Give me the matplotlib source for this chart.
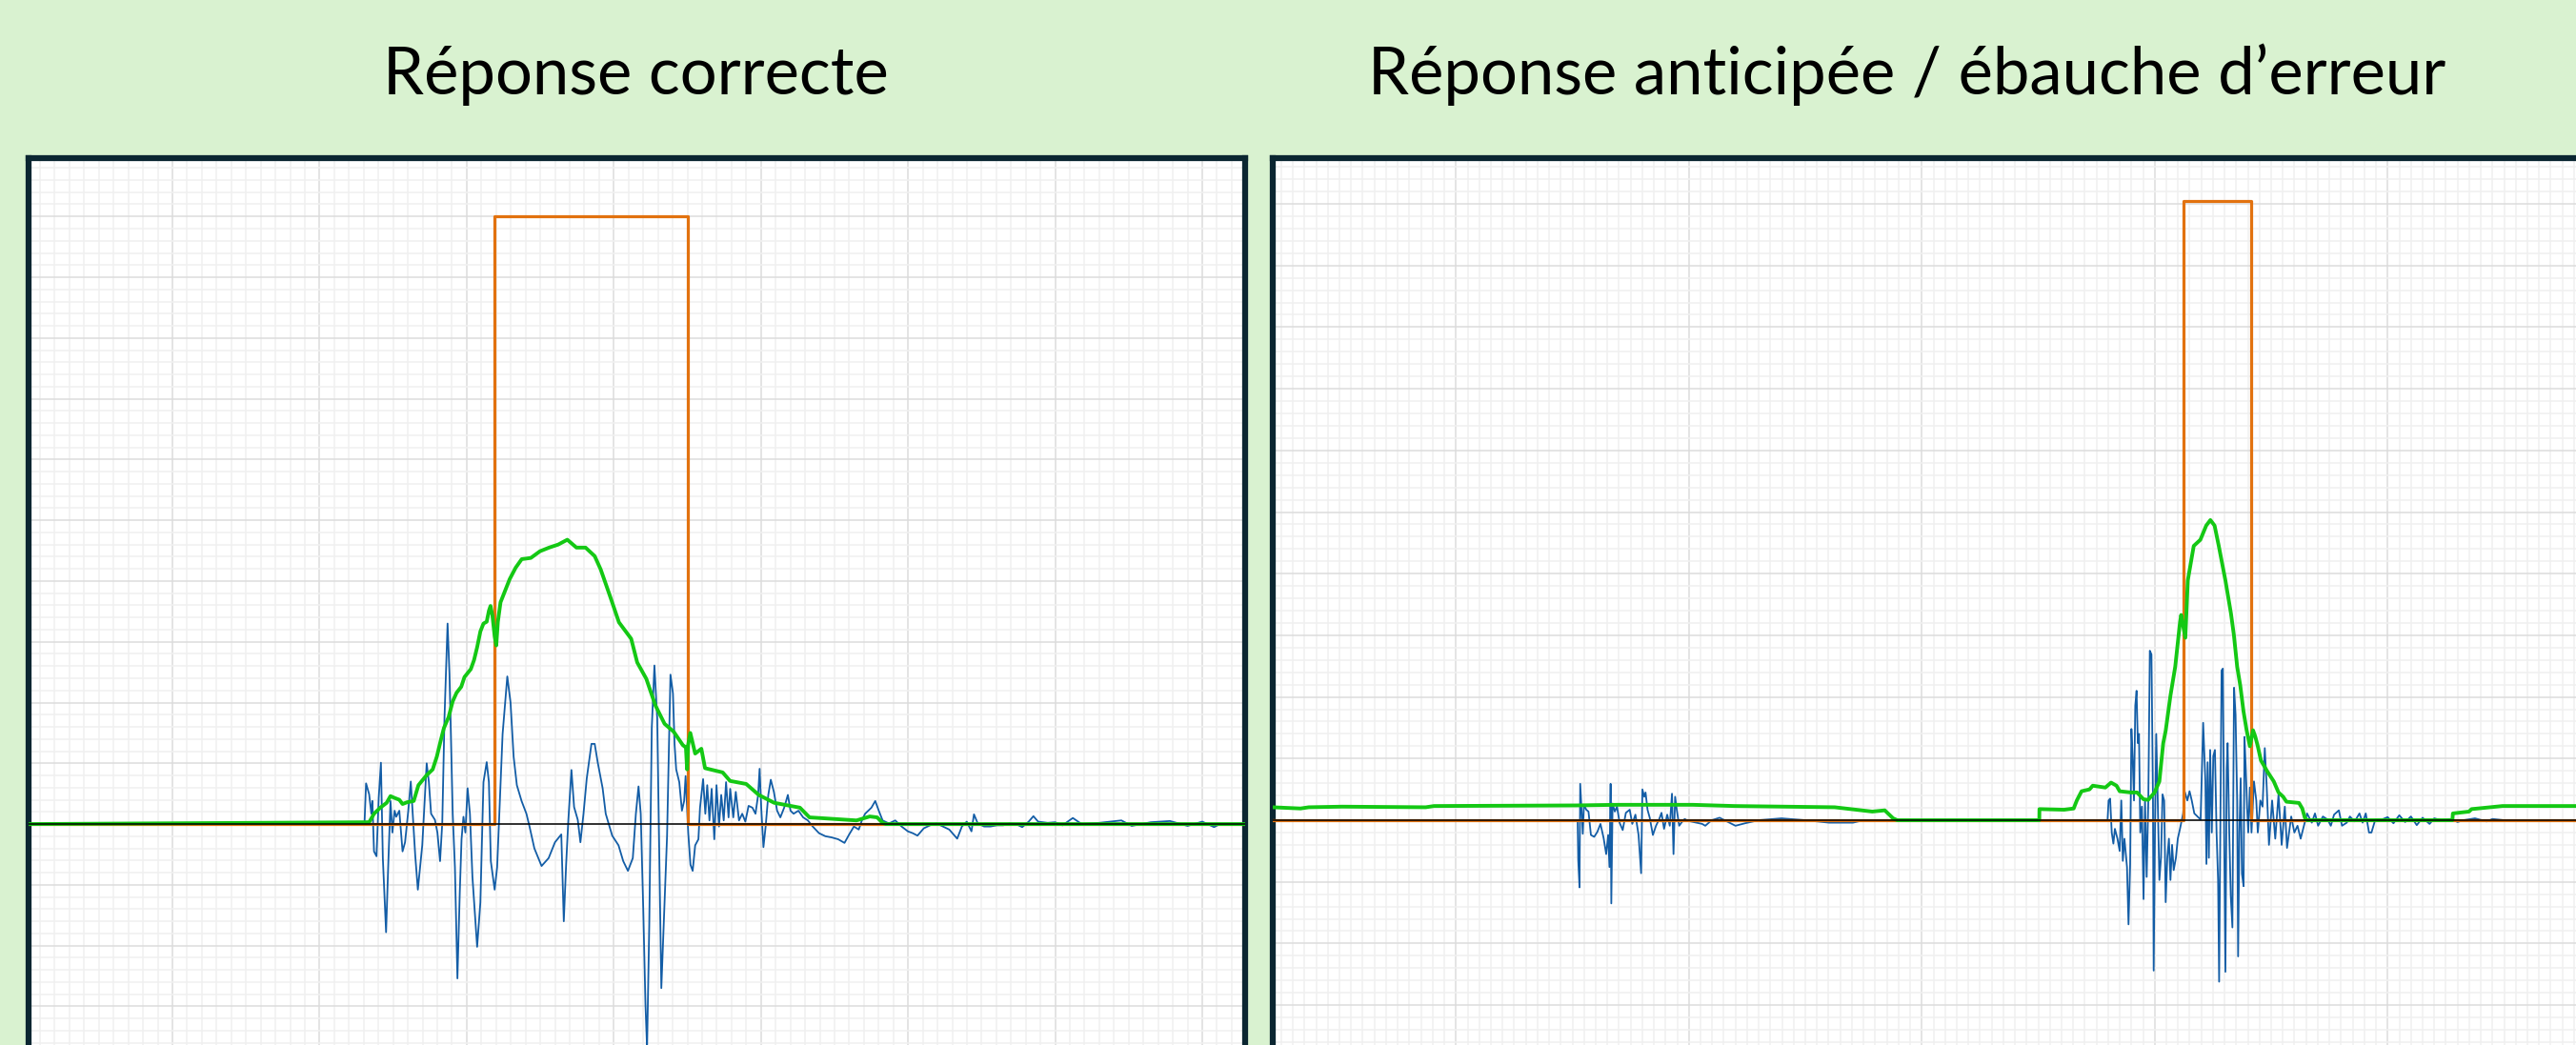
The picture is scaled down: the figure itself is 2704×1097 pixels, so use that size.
"""
Two EMG-style panels: correct response vs anticipated response.

Each panel shows a blue muscle signal, a green force trace and an
orange trigger pulse on a millimetre-paper grid.
"""

import matplotlib
matplotlib.use("Agg")
import matplotlib.pyplot as plt
from matplotlib.ticker import MultipleLocator


# Panel titles.
left_title = "Réponse correcte"
right_title = "Réponse anticipée / ébauche d\u2019erreur"

# Left panel: blue signal (time in ms, amplitude in grid units).
left_blue_t = [
    230.5, 231.6, 233.7, 235.2, 235.9, 237.0, 238.7, 240.2, 241.7, 243.0,
    245.2, 246.7, 248.2, 249.5, 251.0, 252.1, 254.2, 256.4, 258.1, 260.3,
    262.0, 263.3, 265.0, 266.8, 268.3, 269.8, 272.8, 274.3, 275.8, 278.4,
    280.1, 281.9, 283.4, 284.9, 287.0, 288.3, 290.5, 292.0, 293.7, 295.3,
    296.5, 297.8, 299.1, 300.6, 302.2, 303.9, 307.1, 309.3, 311.4, 313.6,
    315.1, 316.4, 319.0, 320.7, 322.2, 324.4, 327.6, 329.8, 331.9, 334.1,
    337.3, 340.6, 342.7, 346.0, 350.9, 355.7, 360.0, 364.3, 366.0, 367.6,
    369.1, 371.2, 373.0, 375.5, 377.3, 379.4, 381.6, 384.8, 387.0, 389.1,
    392.4, 394.5, 397.1, 398.9, 403.2, 406.4, 409.6, 412.9, 415.0, 416.8,
    418.3, 420.0, 421.5, 422.6, 424.1, 425.8, 427.6, 429.5, 430.8, 432.3,
    434.5, 436.2, 438.5, 440.2, 441.3, 442.4, 444.5, 446.3, 447.8, 448.8,
    450.6, 452.1, 453.6, 455.3, 457.5, 458.6, 460.7, 462.2, 463.5, 465.0,
    466.5, 468.3, 469.8, 471.5, 473.0, 474.7, 476.3, 478.0, 479.1, 481.2,
    482.9, 485.1, 487.3, 489.4, 491.6, 494.2, 496.3, 498.1, 499.1, 500.2,
    501.7, 503.2, 505.0, 506.7, 508.8, 511.0, 513.2, 515.8, 518.3, 520.1,
    522.2, 525.5, 528.7, 531.9, 535.2, 539.5, 543.8, 548.1, 552.5, 556.8,
    560.0, 563.2, 566.5, 568.6, 570.8, 573.0, 575.1, 577.7, 580.1, 582.7,
    587.0, 591.3, 595.6, 599.9, 603.2, 606.4, 610.7, 615.0, 619.4, 623.7,
    628.0, 633.4, 636.6, 639.9, 643.1, 644.8, 647.4, 651.7, 656.1, 660.4,
    664.7, 669.0, 673.3, 677.6, 682.0, 685.2, 688.4, 694.9, 700.0, 705.0,
    712.0, 718.0, 730.0, 745.0, 752.0, 765.0, 778.0, 790.0, 800.0, 808.0,
    812.0,
]
left_blue_v = [
    -0.01, 0.67, 0.49, 0.17, 0.38, -0.45, -0.53, 0.43, 1.01, -0.56,
    -1.78, -0.66, 0.38, -0.14, 0.22, 0.12, 0.22, -0.45, -0.30, 0.22,
    0.70, 0.17, -0.51, -1.08, -0.71, -0.35, 1.00, 0.69, 0.17, 0.07,
    -0.14, -0.61, 0.02, 1.74, 3.30, 2.47, 0.17, -0.71, -2.54, -1.13,
    -0.25, 0.12, -0.14, 0.59, 0.17, -0.87, -2.02, -1.29, 0.69, 1.02,
    0.69, -0.61, -1.08, -0.71, 0.17, 1.48, 2.43, 2.00, 1.11, 0.64,
    0.38, 0.17, -0.04, -0.40, -0.69, -0.56, -0.30, -0.17, -1.60, -0.66,
    0.07, 0.89, 0.28, 0.07, -0.30, 0.17, 0.75, 1.32, 1.32, 1.01,
    0.59, 0.17, -0.04, -0.19, -0.35, -0.61, -0.77, -0.56, 0.17, 0.62,
    0.17, -1.39, -2.96, -3.69, -1.65, 1.58, 2.61, 1.74, -0.35, -2.70,
    -1.29, -0.19, 2.46, 2.15, 1.31, 0.90, 0.69, 0.22, 0.38, 0.79,
    -0.15, -0.67, -0.77, -0.35, -0.25, 0.27, 0.74, 0.17, 0.64, 0.06,
    0.58, -0.25, 0.64, -0.04, 0.48, 0.06, 0.69, 0.11, 0.58, 0.11,
    0.53, 0.06, 0.17, 0.04, 0.30, 0.27, 0.17, 0.48, 0.91, 0.27,
    -0.38, -0.04, 0.48, 0.73, 0.53, 0.22, 0.11, 0.27, 0.48, 0.22,
    0.17, 0.22, 0.11, 0.06, -0.04, -0.15, -0.20, -0.22, -0.25, -0.31,
    -0.17, -0.04, -0.09, 0.06, 0.17, 0.22, 0.27, 0.38, 0.22, 0.06,
    0.01, 0.06, -0.04, -0.12, -0.15, -0.19, -0.07, -0.02, 0.01, -0.04,
    -0.09, -0.24, -0.04, 0.04, -0.12, 0.16, 0.01, -0.04, -0.04, -0.02,
    -0.02, 0.01, 0.00, -0.05, 0.04, 0.13, 0.04, 0.02, 0.03, -0.02,
    0.10, 0.00, 0.02, 0.06, -0.03, 0.03, 0.05, -0.03, 0.04, -0.05,
    0.00,
]

# Left panel: green force trace.
left_green_t = [
    2.0, 233.7, 237.0, 241.3, 245.6, 248.2, 251.0, 254.2, 256.4, 259.6,
    264.0, 267.2, 272.6, 276.9, 279.7, 282.3, 284.5, 287.7, 290.5, 293.1,
    296.3, 298.5, 302.8, 305.0, 307.1, 309.3, 311.4, 313.6, 315.1, 316.2,
    317.5, 319.0, 320.1, 321.2, 323.0, 329.2, 333.3, 337.4, 343.6, 349.8,
    356.0, 362.2, 368.4, 374.6, 380.8, 387.0, 391.1, 397.3, 403.5, 411.8,
    415.9, 422.1, 428.3, 434.5, 440.7, 446.9, 449.0, 449.8, 450.5, 452.0,
    455.3, 459.5, 462.0, 474.0, 479.0, 490.0, 498.5, 509.0, 526.5, 533.0,
    565.0, 574.0, 579.0, 582.7, 585.0, 829.0,
]
left_green_v = [
    0.00, 0.03, 0.17, 0.27, 0.35, 0.46, 0.43, 0.40, 0.33, 0.36,
    0.38, 0.64, 0.80, 0.90, 1.11, 1.37, 1.58, 1.76, 2.02, 2.16,
    2.26, 2.42, 2.55, 2.70, 2.91, 3.17, 3.30, 3.33, 3.51, 3.59,
    3.43, 3.09, 2.94, 3.33, 3.65, 4.03, 4.22, 4.36, 4.38, 4.49,
    4.55, 4.60, 4.68, 4.55, 4.55, 4.41, 4.19, 3.76, 3.32, 3.05,
    2.66, 2.39, 1.95, 1.65, 1.52, 1.30, 1.26, 0.90, 1.30, 1.50,
    1.16, 1.24, 0.92, 0.85, 0.71, 0.66, 0.48, 0.35, 0.27, 0.11,
    0.06, 0.125, 0.11, 0.02, 0.00, 0.00,
]

# Left panel: orange trigger pulse.
left_trig_t = [2.0, 319.0, 319.0, 450.0, 450.0, 829.0]
left_trig_v = [0.0, 0.0, 10.0, 10.0, 0.0, 0.0]

# Right panel: blue signal.
right_blue_t = [
    304.5, 305.0, 306.1, 306.7, 307.8, 308.9, 309.9, 311.9, 313.8, 315.9,
    318.7, 321.4, 324.1, 326.8, 329.0, 330.7, 331.8, 332.8, 333.4, 334.5,
    336.4, 338.3, 340.5, 343.2, 345.9, 349.2, 351.4, 354.1, 356.8, 359.0,
    360.1, 361.7, 362.8, 364.5, 366.4, 369.1, 371.8, 374.6, 376.5, 378.7,
    381.4, 383.6, 385.5, 386.8, 388.2, 389.6, 391.7, 393.6, 396.4, 399.1,
    411.4, 414.1, 419.6, 426.4, 440.0, 448.2, 460.0, 479.5, 500.0, 520.4,
    530.0, 540.9, 550.0, 759.5,
    760.4, 761.7, 763.1, 764.5, 765.8, 768.0, 769.9, 771.3, 772.6, 774.0,
    776.2, 777.5, 778.9, 780.0, 781.1, 782.2, 783.3, 784.4, 785.5, 786.5,
    787.6, 789.0, 790.4, 791.7, 793.1, 794.5, 795.8, 797.2, 798.5, 799.1,
    800.2, 801.3, 802.6, 804.0, 805.4, 806.7, 808.1, 809.4, 810.8, 812.2,
    813.5, 814.9, 816.3, 818.2, 819.8, 821.7, 824.4, 825.8, 828.0, 829.9,
    831.8, 834.0, 836.7, 839.4, 841.6, 843.5, 844.4, 845.4, 846.5, 847.6,
    849.0, 850.3, 851.7, 853.1, 854.4, 855.3, 856.3, 857.4, 858.5, 859.6,
    860.7, 861.8, 862.6, 864.0, 865.3, 866.7, 868.1, 869.4, 870.8, 871.6,
    872.7, 873.8, 874.9, 876.3, 877.1, 878.2, 879.3, 880.3, 881.7, 883.1,
    885.2, 887.2, 888.5, 890.7, 892.6, 894.5, 896.2, 898.1, 900.8, 903.5,
    906.3, 909.0, 911.7, 913.6, 917.2, 919.9, 922.6, 925.3, 928.1, 930.8,
    934.9, 937.6, 940.3, 944.4, 948.5, 951.2, 954.0, 958.1, 960.8, 964.9,
    967.6, 971.7, 975.8, 978.5, 981.2, 984.0, 986.1, 989.4, 994.9, 1000.0,
    1005.0, 1010.0, 1015.0, 1020.0, 1025.0, 1030.0, 1036.0, 1040.0, 1046.0, 1055.0,
    1060.0, 1065.0, 1075.0, 1085.0, 1090.0, 1100.0,
]
right_blue_v = [
    0.00, -0.65, -1.09, 0.59, 0.17, -0.22, 0.25, 0.17, 0.14, -0.24,
    -0.27, -0.19, -0.06, -0.29, -0.55, -0.24, -0.76, 0.59, -1.35, 0.27,
    0.14, 0.22, -0.04, -0.16, 0.12, 0.17, -0.06, 0.09, -0.24, -0.86,
    0.50, 0.38, 0.45, 0.17, 0.04, -0.24, -0.09, 0.02, 0.12, -0.14,
    0.09, -0.09, 0.43, -0.55, 0.38, 0.17, -0.09, -0.04, 0.02, -0.01,
    -0.06, -0.09, 0.00, 0.04, -0.09, -0.05, 0.00, 0.03, 0.00, -0.04,
    -0.04, -0.04, 0.00, 0.00,
    0.32, 0.35, -0.20, -0.38, -0.14, -0.30, -0.50, 0.32, -0.66, -0.30,
    -0.76, -1.69, -0.71, 1.48, 0.99, 0.32, 1.86, 2.10, 1.25, 1.40,
    -0.20, 0.22, -1.28, 0.32, -0.92, 0.32, 2.75, 2.69, 0.32, -2.44,
    -0.20, 1.40, 0.32, -0.97, -0.61, 0.42, 0.32, -1.33, -0.61, -0.30,
    -0.97, -0.40, -0.81, -0.61, -0.30, -0.14, 0.11, 0.46, 0.32, 0.47,
    0.32, 0.11, 0.06, 0.01, 1.58, 0.63, -0.71, 0.94, -0.61, 1.14,
    -0.20, 1.04, 1.14, -0.20, -0.97, -2.62, -0.20, 2.43, 2.46, -0.20,
    -2.46, 0.83, 1.25, -0.20, -1.23, -1.74, 2.15, 1.71, 0.32, -2.21,
    -0.20, 0.68, -0.87, -1.07, 1.35, 0.83, 0.22, -0.20, 0.53, -0.20,
    0.63, 0.32, -0.20, 0.32, 0.22, 1.17, 0.53, -0.40, 0.32, -0.30,
    0.42, -0.40, 0.22, -0.45, 0.06, -0.20, -0.09, -0.30, -0.09, 0.11,
    -0.04, 0.11, -0.09, 0.06, 0.01, -0.09, 0.09, 0.16, -0.09, -0.04,
    0.06, -0.02, 0.11, -0.04, 0.11, -0.20, -0.20, 0.01, 0.01, 0.05,
    -0.05, 0.08, -0.03, 0.06, -0.08, 0.04, -0.06, 0.03, 0.00, 0.02,
    -0.03, 0.00, 0.03, -0.02, 0.02, 0.00,
]

# Right panel: green force trace.
right_green_t = [
    42.7, 66.5, 73.6, 102.3, 174.0, 181.2, 303.0, 338.8, 403.3, 439.2,
    525.2, 557.5, 568.2, 575.4, 579.0, 700.9, 701.0, 722.2, 730.4, 733.1,
    737.2, 744.0, 746.8, 757.6, 762.5, 767.2, 769.9, 779.5, 784.9, 790.3,
    794.4, 799.9, 804.0, 807.3, 809.4, 813.5, 817.6, 821.7, 822.7, 826.3,
    828.4, 833.5, 839.2, 844.2, 847.8, 851.4, 855.0, 860.7, 865.5, 868.0,
    870.8, 873.5, 876.2, 878.9, 881.7, 884.4, 886.3, 888.5, 891.2, 896.7,
    902.2, 906.3, 910.3, 913.1, 923.9, 926.7, 928.9, 930.8, 1055.6, 1056.0,
    1069.9, 1072.0, 1098.6, 1175.0,
]
right_green_v = [
    0.21, 0.19, 0.21, 0.22, 0.21, 0.23, 0.24, 0.25, 0.25, 0.23,
    0.21, 0.14, 0.16, 0.03, 0.00, 0.00, 0.18, 0.17, 0.19, 0.32,
    0.47, 0.50, 0.56, 0.53, 0.61, 0.56, 0.47, 0.45, 0.45, 0.34,
    0.33, 0.45, 0.63, 1.25, 1.45, 2.02, 2.49, 3.21, 3.33, 2.96,
    3.89, 4.45, 4.55, 4.78, 4.87, 4.78, 4.45, 3.89, 3.35, 3.00,
    2.49, 2.18, 1.77, 1.46, 1.20, 1.46, 1.36, 1.20, 0.97, 0.79,
    0.63, 0.45, 0.38, 0.30, 0.28, 0.19, 0.04, 0.00, 0.00, 0.11,
    0.14, 0.18, 0.23, 0.23,
]

# Right panel: orange trigger pulse.
right_trig_t = [42.7, 825.0, 825.0, 883.0, 883.0, 1175.0]
right_trig_v = [0.0, 0.0, 10.04, 10.04, 0.0, 0.0]


# Sets up one framed panel with the millimetre grid.
def style_panel(ax, xlim, ylim, x_major):
    ax.set_facecolor("white")
    ax.set_xlim(*xlim)
    ax.set_ylim(*ylim)

    # Major and minor grid spacing.
    ax.xaxis.set_major_locator(MultipleLocator(x_major))
    ax.xaxis.set_minor_locator(MultipleLocator(10))
    ax.yaxis.set_major_locator(MultipleLocator(1))
    ax.yaxis.set_minor_locator(MultipleLocator(0.2))
    ax.grid(which="minor", color="#f0f0f0", linewidth=1.1, zorder=0)
    ax.grid(which="major", color="#dcdcdc", linewidth=1.1, zorder=0)
    ax.set_axisbelow(True)

    # No ticks or labels, only the thick dark frame.
    ax.tick_params(which="both", length=0, labelbottom=False, labelleft=False)
    for spine in ax.spines.values():
        spine.set_color("#0b2631")
        spine.set_linewidth(4.5)


# Draws the three traces and the zero line.
def draw_traces(ax, blue_t, blue_v, green_t, green_v, trig_t, trig_v):
    ax.plot(blue_t, blue_v, color="#135da6", linewidth=1.3, zorder=2)
    ax.plot(trig_t, trig_v, color="#e2720f", linewidth=2.3, zorder=3)
    ax.plot(green_t, green_v, color="#14c814", linewidth=2.8, zorder=4)
    ax.axhline(0, color="black", linewidth=1.1, zorder=5)


def main():
    fig = plt.figure(figsize=(27.04, 10.97), dpi=100)
    fig.patch.set_facecolor("#d9f2d0")

    # Panels run off the bottom (and the right) of the picture.
    ax_left = fig.add_axes([0.01109, -0.00912, 0.47226, 0.8578])
    ax_right = fig.add_axes([0.49408, -0.00912, 0.51183, 0.8578])

    style_panel(ax_left, (2.2, 829.1), (-3.793, 10.96), 100)
    style_panel(ax_right, (42.7, 1174.8), (-3.802, 10.742), 200)

    draw_traces(ax_left, left_blue_t, left_blue_v, left_green_t,
                left_green_v, left_trig_t, left_trig_v)
    draw_traces(ax_right, right_blue_t, right_blue_v, right_green_t,
                right_green_v, right_trig_t, right_trig_v)

    # Titles above each panel.
    fig.text(667 / 2704, 1 - 99 / 1097, left_title, ha="center",
             va="baseline", fontsize=49.5, family="Lato", color="black")
    fig.text(2002 / 2704, 1 - 99 / 1097, right_title, ha="center",
             va="baseline", fontsize=49.5, family="Lato", color="black")

    fig.savefig("out.png", dpi=100, facecolor=fig.get_facecolor())
    plt.close(fig)


if __name__ == "__main__":
    main()
